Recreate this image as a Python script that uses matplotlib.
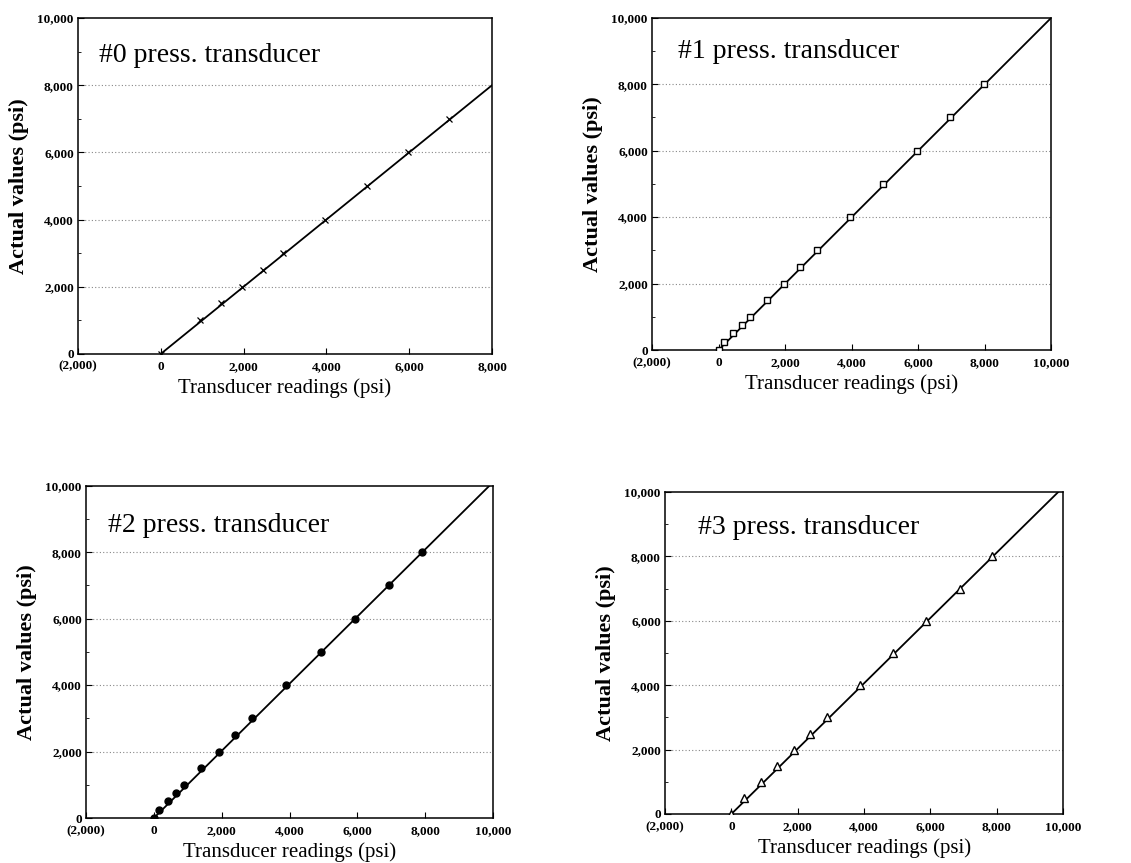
import numpy as np
import matplotlib
matplotlib.use("Agg")
import matplotlib.pyplot as plt
from matplotlib.ticker import FuncFormatter, MultipleLocator

plt.rcParams['font.family'] = ['Liberation Serif', 'DejaVu Serif']

# calibration runs: transducer reading vs. applied (actual) pressure, psi
titles = ["#0 press. transducer", "#1 press. transducer",
          "#2 press. transducer", "#3 press. transducer"]

read0 = [0, 950, 1450, 1970, 2460, 2960, 3960, 4970, 5980, 6970]
actual0 = [0, 1000, 1500, 2000, 2500, 3000, 4000, 5000, 6000, 7000]

read1 = [0, 160, 440, 690, 950, 1460, 1960, 2450, 2960, 3950, 4950, 5960, 6960, 7970]
actual1 = [0, 250, 500, 750, 1000, 1500, 2000, 2500, 3000, 4000, 5000, 6000, 7000, 8000]

read2 = [0, 160, 410, 650, 890, 1390, 1910, 2390, 2900, 3900, 4930, 5930, 6920, 7910]
actual2 = [0, 250, 500, 750, 1000, 1500, 2000, 2500, 3000, 4000, 5000, 6000, 7000, 8000]

read3 = [0, 380, 880, 1380, 1880, 2380, 2880, 3870, 4870, 5870, 6880, 7870]
actual3 = [0, 500, 1000, 1500, 2000, 2500, 3000, 4000, 5000, 6000, 7000, 8000]

# end points of the fitted calibration lines
fit_x = [[0, 8000], [0, 10000], [0, 9890], [0, 9850]]
fit_y = [[0, 8000], [0, 10000], [0, 10000], [0, 10000]]

x_max = [8000, 10000, 10000, 10000]

readings = [read0, read1, read2, read3]
actuals = [actual0, actual1, actual2, actual3]
markers = [dict(marker="x", ms=5, mfc="black", mec="black", mew=0.9),
           dict(marker="s", ms=5, mfc="white", mec="black", mew=1.0),
           dict(marker="o", ms=5, mfc="black", mec="black", mew=1.0),
           dict(marker="^", ms=6, mfc="white", mec="black", mew=1.0)]

# axes boxes in figure fractions [left, bottom, width, height]
boxes = [[0.069, 0.590, 0.366, 0.389],
         [0.5765, 0.5944, 0.353, 0.385],
         [0.076, 0.0521, 0.360, 0.385],
         [0.588, 0.0568, 0.352, 0.373]]
title_pos = [(0.05, 0.89), (0.065, 0.90), (0.054, 0.88), (0.083, 0.89)]


def psi_fmt(v, pos):
    if v < 0:
        return "({:,.0f})".format(-v)
    return "{:,.0f}".format(v)


fig = plt.figure(figsize=(11.31, 8.63), dpi=100)

for i in range(4):
    ax = fig.add_axes(boxes[i])
    ax.set_xlim(-2000, x_max[i])
    ax.set_ylim(0, 10000)

    for g in [2000, 4000, 6000, 8000]:
        ax.axhline(g, color="#888888", lw=0.8, ls=(0, (1, 2)), zorder=1)

    ax.plot(fit_x[i], fit_y[i], color="black", lw=1.3, zorder=2)
    ax.plot(readings[i], actuals[i], ls="none", zorder=3, **markers[i])

    ax.xaxis.set_major_locator(MultipleLocator(2000))
    ax.yaxis.set_major_locator(MultipleLocator(2000))
    ax.yaxis.set_minor_locator(MultipleLocator(1000))
    ax.xaxis.set_major_formatter(FuncFormatter(psi_fmt))
    ax.yaxis.set_major_formatter(FuncFormatter(psi_fmt))
    ax.tick_params(axis="both", which="both", direction="in", labelsize=9.5)
    ax.tick_params(axis="x", pad=5)
    ax.tick_params(axis="y", pad=3)
    ax.tick_params(which="major", length=4)
    ax.tick_params(which="minor", length=2.5)
    for lab in ax.get_xticklabels() + ax.get_yticklabels():
        lab.set_fontweight("bold")
    for sp in ax.spines.values():
        sp.set_linewidth(1.1)

    ax.set_xlabel("Transducer readings (psi)", fontsize=15, labelpad=4)
    ax.set_ylabel("Actual values (psi)", fontsize=16, fontweight="bold", labelpad=6)

    ax.text(title_pos[i][0], title_pos[i][1], titles[i], transform=ax.transAxes,
            fontsize=20, va="center", ha="left")

fig.savefig("out.png", dpi=100)
